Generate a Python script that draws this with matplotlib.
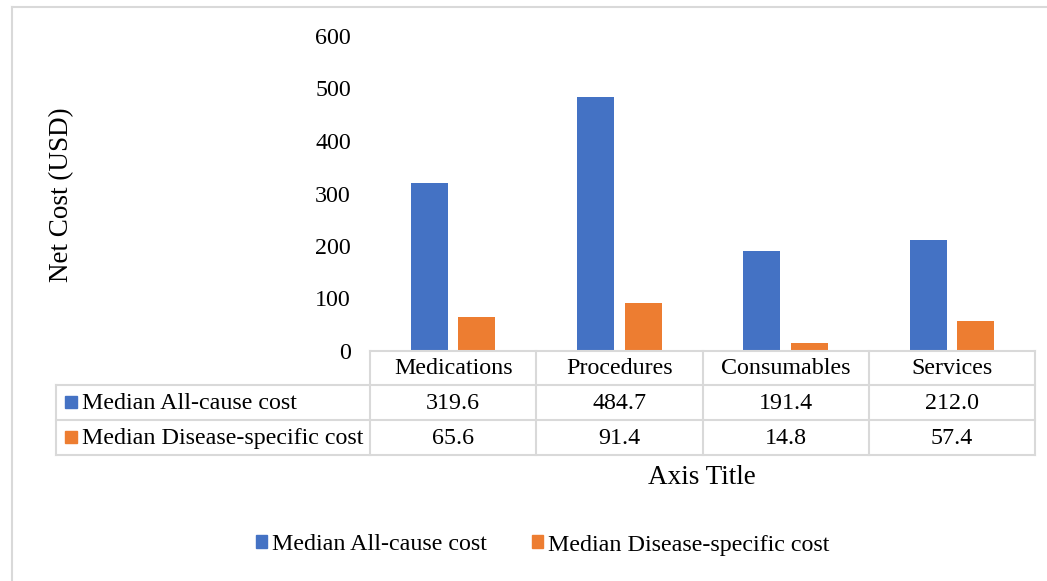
import matplotlib.pyplot as plt
import numpy as np
from matplotlib.patches import Rectangle
from matplotlib.lines import Line2D

categories = ["Medications", "Procedures", "Consumables", "Services"]
all_cause = [319.6, 484.7, 191.4, 212.0]
disease_specific = [65.6, 91.4, 14.8, 57.4]
series_names = ["Median All-cause cost", "Median Disease-specific cost"]

blue = "#4472C4"
orange = "#ED7D31"
grid_col = "#D9D9D9"

plt.rcParams["font.family"] = ["Liberation Serif", "DejaVu Serif"]
plt.rcParams["font.size"] = 17.3

W, H = 1047, 581
fig = plt.figure(figsize=(W / 100, H / 100), dpi=100)


def fx(x):
    return x / W


def fy(y):
    return 1 - y / H


# outer chart border (left and top only visible)
fig.add_artist(Line2D([fx(12), fx(12)], [fy(7), fy(590)], color=grid_col, lw=1.5))
fig.add_artist(Line2D([fx(12), fx(1060)], [fy(7), fy(7)], color=grid_col, lw=1.5))

# plot area
left, right, top, bottom = 370, 1035, 36, 351
ax = fig.add_axes([fx(left), fy(bottom), fx(right - left), (bottom - top) / H])
x = np.arange(len(categories))
ax.bar(x - 0.143, all_cause, width=0.223, color=blue)
ax.bar(x + 0.143, disease_specific, width=0.223, color=orange)
ax.set_xlim(-0.5, len(categories) - 0.5)
ax.set_ylim(0, 600)
ax.set_yticks(range(0, 601, 100))
ax.set_xticks([])
ax.tick_params(axis="y", length=0, pad=13.7)
for s in ax.spines.values():
    s.set_visible(False)

# data table
row_y = [351, 385, 420, 455]
col_w = (right - left) / len(categories)
col_x = [left + i * col_w for i in range(len(categories) + 1)]
tleft = 56
lw = 1.5
# horizontal lines
fig.add_artist(Line2D([fx(left), fx(right)], [fy(row_y[0])] * 2, color=grid_col, lw=lw))
for yy in row_y[1:]:
    fig.add_artist(Line2D([fx(tleft), fx(right)], [fy(yy)] * 2, color=grid_col, lw=lw))
# vertical lines
for xx in col_x:
    fig.add_artist(Line2D([fx(xx)] * 2, [fy(row_y[0]), fy(row_y[-1])], color=grid_col, lw=lw))
fig.add_artist(Line2D([fx(tleft)] * 2, [fy(row_y[1]), fy(row_y[-1])], color=grid_col, lw=lw))

for i, cat in enumerate(categories):
    cx = (col_x[i] + col_x[i + 1]) / 2
    fig.text(fx(cx), fy((row_y[0] + row_y[1]) / 2 + 1), cat, ha="center", va="center")
    fig.text(fx(cx), fy((row_y[1] + row_y[2]) / 2 + 1), f"{all_cause[i]:.1f}", ha="center", va="center")
    fig.text(fx(cx), fy((row_y[2] + row_y[3]) / 2 + 1), f"{disease_specific[i]:.1f}", ha="center", va="center")

for r, (name, col) in enumerate(zip(series_names, [blue, orange])):
    cy = (row_y[r + 1] + row_y[r + 2]) / 2
    fig.add_artist(Rectangle((fx(65), fy(cy + 5)), fx(12), 12 / H, color=col))
    fig.text(fx(82), fy(cy + 1), name, ha="left", va="center")

# axis titles
fig.text(fx(62), fy(195), "Net Cost (USD)", rotation=90, ha="center", va="center", fontsize=19.5)
fig.text(fx(702), fy(477), "Axis Title", ha="center", va="center", fontsize=19.5)

# legend
handles = [Rectangle((0, 0), 1, 1, color=blue), Rectangle((0, 0), 1, 1, color=orange)]
fig.legend(handles, series_names, loc="center", bbox_to_anchor=(fx(543), fy(545)),
           ncol=2, frameon=False, handlelength=0.46, handleheight=0.46,
           handletextpad=0.21, columnspacing=1.87)

fig.savefig("out.png", dpi=100)
